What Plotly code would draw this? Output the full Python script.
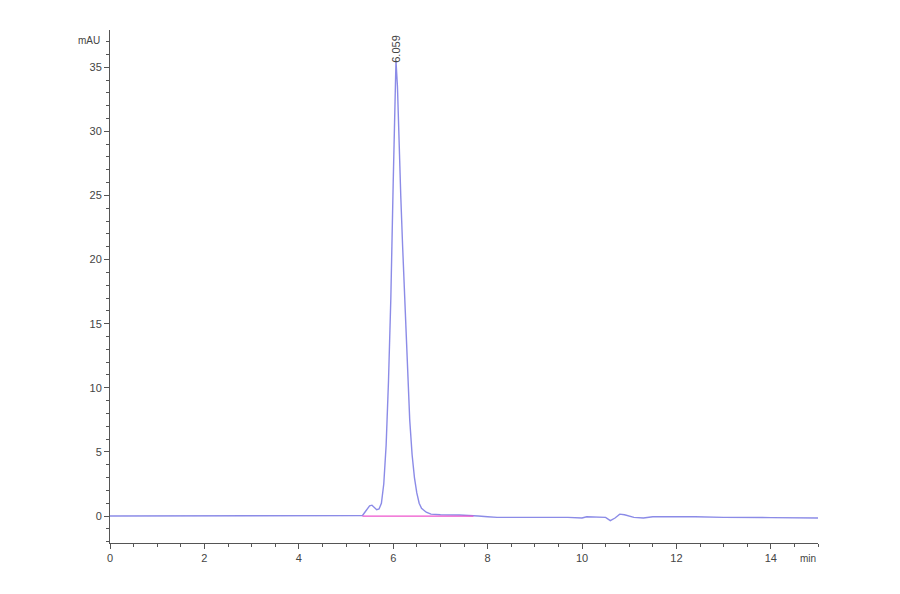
import plotly.graph_objects as go

# retention time (min) and detector signal (mAU)
time_min = [0.0, 1.0, 2.0, 3.0, 4.0, 4.6, 5.0, 5.30, 5.35, 5.40, 5.45, 5.50, 5.55,
            5.60, 5.65, 5.70, 5.75, 5.80, 5.85, 5.90, 5.95, 6.00, 6.03, 6.059,
            6.09, 6.12, 6.16, 6.20, 6.25, 6.30, 6.35, 6.40, 6.45, 6.50, 6.55,
            6.60, 6.70, 6.80, 7.00, 7.40, 7.70, 7.80, 8.00, 8.20, 9.00, 9.50,
            9.60, 9.70, 10.00, 10.10, 10.50, 10.60, 10.70, 10.80, 10.90, 11.10,
            11.30, 11.50, 12.40, 13.00, 14.00, 15.00]
signal_mau = [0.0, 0.0, 0.0, 0.0, 0.0, 0.0, 0.0, 0.0, 0.05, 0.3, 0.6, 0.8, 0.85,
              0.7, 0.5, 0.55, 1.0, 2.5, 5.5, 10.5, 17.0, 26.0, 32.0, 35.5,
              33.5, 29.5, 25.0, 21.0, 16.0, 11.5, 7.5, 4.8, 3.0, 1.8, 1.0,
              0.6, 0.3, 0.15, 0.1, 0.08, 0.05, 0.0, -0.05, -0.1, -0.1, -0.1,
              -0.05, -0.1, -0.15, -0.05, -0.1, -0.35, -0.15, 0.15, 0.1, -0.1,
              -0.15, -0.05, -0.05, -0.1, -0.12, -0.15]

# integration baseline of the main peak
baseline_t = [5.35, 7.70]
baseline_y = [0.0, 0.0]

peak_rt = 6.059
peak_height = 35.5

axis_color = "#555555"
font_color = "#444444"

fig = go.Figure()
fig.add_trace(go.Scatter(x=time_min, y=signal_mau, mode="lines",
                         line=dict(color="rgba(110,110,225,0.8)", width=1.4),
                         showlegend=False))
fig.add_trace(go.Scatter(x=baseline_t, y=baseline_y, mode="lines",
                         line=dict(color="#ee55cc", width=1.2),
                         showlegend=False))

fig.add_annotation(x=peak_rt, y=peak_height, text="6.059", showarrow=False,
                   textangle=-90, yanchor="bottom", yshift=-4,
                   font=dict(size=11, color=font_color))
fig.add_annotation(x=0, xref="x", y=37.1, text="mAU", showarrow=False,
                   xanchor="right", xshift=-8, font=dict(size=10, color=font_color))
fig.add_annotation(x=15, y=-2.1, text="min", showarrow=False,
                   xanchor="right", yanchor="top", yshift=-8,
                   font=dict(size=10, color=font_color))

fig.update_layout(
    width=884, height=578,
    margin=dict(l=102, r=74, t=22, b=43),
    plot_bgcolor="white", paper_bgcolor="white",
    font=dict(family="Liberation Sans, Arial", size=11, color=font_color),
    xaxis=dict(range=[0, 15], tickvals=[0, 2, 4, 6, 8, 10, 12, 14],
               showgrid=False, zeroline=False, showline=True,
               linecolor=axis_color, linewidth=1,
               ticks="outside", ticklen=5, tickcolor=axis_color,
               minor=dict(dtick=0.5, ticks="outside", ticklen=3,
                          tickcolor=axis_color)),
    yaxis=dict(range=[-2.1, 37.9], tickvals=[0, 5, 10, 15, 20, 25, 30, 35],
               showgrid=False, zeroline=False, showline=True,
               linecolor=axis_color, linewidth=1,
               ticks="outside", ticklen=5, tickcolor=axis_color,
               minor=dict(dtick=1, ticks="outside", ticklen=3,
                          tickcolor=axis_color)),
)

fig.write_html("out.html")
